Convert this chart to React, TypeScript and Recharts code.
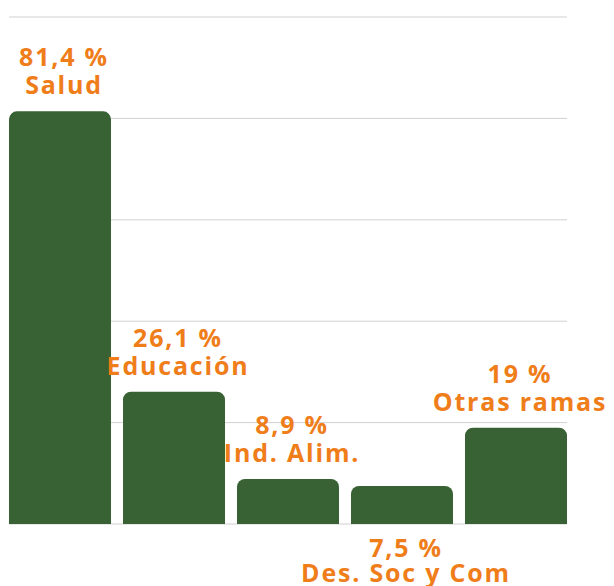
import React from 'react';
import { BarChart, Bar, XAxis, YAxis, CartesianGrid, LabelList } from 'recharts';

const ramas = ['Salud', 'Educación', 'Ind. Alim.', 'Des. Soc y Com', 'Otras ramas'];
const porcentajes = [81.4, 26.1, 8.9, 7.5, 19];
const valorTexto = ['81,4 %', '26,1 %', '8,9 %', '7,5 %', '19 %'];
const yTicks = [0, 20, 40, 60, 80, 100];

// labels that sit under the baseline instead of above the bar
const etiquetaAbajo = ['Des. Soc y Com'];

const data = ramas.map((rama, i) => ({
  rama,
  valor: porcentajes[i],
  texto: valorTexto[i]
}));

const VERDE = '#386134';
const NARANJA = '#ef7d1a';

const Etiqueta = (props: any) => {
  const { x, y, width, height, index } = props;
  const d = data[index];
  const cx = x + width / 2 + 4;
  const abajo = etiquetaAbajo.includes(d.rama);
  const y1 = abajo ? y + height + 33 : y - 45;
  const y2 = abajo ? y + height + 58 : y - 17;
  return (
    <text
      textAnchor="middle"
      fill={NARANJA}
      fontFamily="'Open Sans', sans-serif"
      fontWeight={700}
      fontSize={25}
      letterSpacing={1.8}
    >
      <tspan x={cx} y={y1}>{d.texto}</tspan>
      <tspan x={cx} y={y2}>{d.rama}</tspan>
    </text>
  );
};

const App: React.FC = () => {
  return (
    <div style={{ width: 614, height: 586 }}>
      <style>{'body{margin:0}'}</style>
      <BarChart
        width={614}
        height={586}
        data={data}
        margin={{ top: 17, right: 41, bottom: 62, left: 3 }}
        barCategoryGap={6}
      >
        <CartesianGrid
          vertical={false}
          horizontal={(p: any) => (
            <line
              key={`h-${p.index}`}
              x1={p.x1 + 6}
              x2={p.x2 - 6}
              y1={p.y1}
              y2={p.y2}
              stroke="#d0d0d0"
              strokeWidth={1}
            />
          )}
        />
        <XAxis dataKey="rama" hide />
        <YAxis domain={[0, 100]} ticks={yTicks} hide />
        <Bar dataKey="valor" fill={VERDE} radius={[8, 8, 0, 0]} isAnimationActive={false}>
          <LabelList dataKey="valor" content={<Etiqueta />} />
        </Bar>
      </BarChart>
    </div>
  );
};

export default App;
